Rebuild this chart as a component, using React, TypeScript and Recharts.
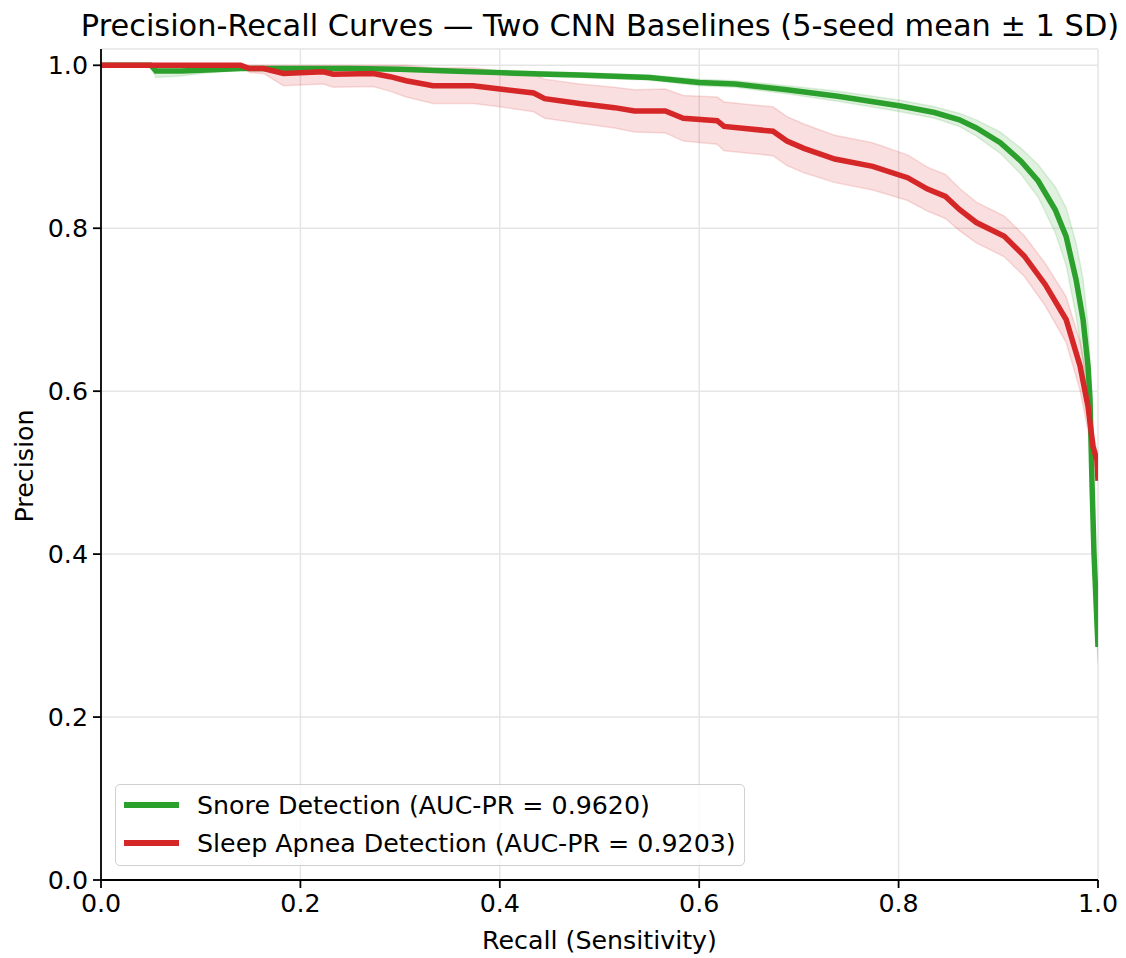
import React from 'react';
import { ComposedChart, Line, Area, XAxis, YAxis, CartesianGrid } from 'recharts';

// ---- Data ----
const snoreRecall = [0, 0.05, 0.055, 0.08, 0.1, 0.14, 0.2, 0.25, 0.3, 0.35, 0.4, 0.45, 0.48, 0.55, 0.6, 0.636, 0.688, 0.739, 0.802, 0.836, 0.861, 0.878, 0.902, 0.923, 0.94, 0.957, 0.968, 0.978, 0.985, 0.99, 0.992, 0.994, 0.996, 1.0];
const snorePrecision = [1.0, 1.0, 0.993, 0.993, 0.994, 0.996, 0.996, 0.996, 0.995, 0.993, 0.991, 0.989, 0.988, 0.985, 0.979, 0.977, 0.97, 0.962, 0.95, 0.942, 0.933, 0.923, 0.905, 0.882, 0.858, 0.823, 0.79, 0.737, 0.688, 0.631, 0.59, 0.487, 0.4, 0.286];
const snoreSD = [0, 0, 0.008, 0.006, 0.004, 0.002, 0.002, 0.002, 0.002, 0.002, 0.003, 0.003, 0.003, 0.003, 0.004, 0.004, 0.005, 0.006, 0.007, 0.007, 0.008, 0.01, 0.013, 0.016, 0.02, 0.028, 0.035, 0.045, 0.05, 0.05, 0.05, 0.045, 0.035, 0.02];

const apneaRecall = [0, 0.14, 0.149, 0.163, 0.183, 0.223, 0.233, 0.273, 0.29, 0.306, 0.333, 0.373, 0.4, 0.434, 0.445, 0.48, 0.515, 0.535, 0.566, 0.584, 0.618, 0.625, 0.674, 0.688, 0.705, 0.736, 0.774, 0.809, 0.829, 0.847, 0.861, 0.878, 0.906, 0.926, 0.947, 0.968, 0.982, 0.99, 0.995, 0.999, 1.0];
const apneaPrecision = [1.0, 1.0, 0.996, 0.996, 0.99, 0.992, 0.989, 0.99, 0.986, 0.981, 0.975, 0.975, 0.971, 0.966, 0.959, 0.953, 0.948, 0.944, 0.944, 0.935, 0.932, 0.925, 0.919, 0.907, 0.898, 0.885, 0.876, 0.862, 0.848, 0.839, 0.823, 0.807, 0.79, 0.766, 0.731, 0.688, 0.631, 0.581, 0.532, 0.515, 0.49];
const apneaSD = [0, 0, 0.005, 0.006, 0.015, 0.015, 0.016, 0.016, 0.018, 0.02, 0.022, 0.022, 0.022, 0.023, 0.024, 0.024, 0.025, 0.026, 0.027, 0.028, 0.029, 0.03, 0.03, 0.03, 0.03, 0.029, 0.029, 0.028, 0.027, 0.027, 0.026, 0.025, 0.025, 0.025, 0.026, 0.028, 0.03, 0.03, 0.02, 0.01, 0];

const xTicks = [0, 0.2, 0.4, 0.6, 0.8, 1.0];
const yTicks = [0, 0.2, 0.4, 0.6, 0.8, 1.0];

const seriesNames = ['Snore Detection (AUC-PR = 0.9620)', 'Sleep Apnea Detection (AUC-PR = 0.9203)'];
const titleText = 'Precision-Recall Curves — Two CNN Baselines (5-seed mean ± 1 SD)';

const GREEN = '#2ca02c';
const RED = '#d62728';
const FONT = 'DejaVu Sans, sans-serif';
const FS = 25.3;

const lineData = (rx: number[], py: number[]) => rx.map((x, i) => ({ x, y: py[i] }));
const bandData = (rx: number[], py: number[], sd: number[]) =>
  rx.map((x, i) => ({ x, band: [Math.max(0, py[i] - sd[i]), Math.min(1, py[i] + sd[i])] }));

const snoreLine = lineData(snoreRecall, snorePrecision);
const snoreBand = bandData(snoreRecall, snorePrecision, snoreSD);
const apneaLine = lineData(apneaRecall, apneaPrecision);
const apneaBand = bandData(apneaRecall, apneaPrecision, apneaSD);

const W = 1126;
const H = 958;

const YLabel = (props: any) => {
  const vb = props.viewBox || {};
  const cx = (vb.x || 0) + (vb.width || 0) - 77;
  const cy = 466;
  return (
    <text x={cx} y={cy} transform={`rotate(-90, ${cx}, ${cy})`} textAnchor="middle" dominantBaseline="central"
      fontFamily={FONT} fontSize={FS} fill="#000">Precision</text>
  );
};

const XLabel = (props: any) => {
  const vb = props.viewBox || {};
  const cx = (vb.x || 0) + (vb.width || 0) / 2;
  return (
    <text x={cx} y={940} textAnchor="middle" dominantBaseline="central" fontFamily={FONT} fontSize={FS} fill="#000">
      Recall (Sensitivity)
    </text>
  );
};

export default function App() {
  return (
    <div style={{ position: 'absolute', left: 0, top: 0, width: W, height: H, background: '#fff', overflow: 'hidden' }}>
      <div style={{ position: 'absolute', left: 200, top: 8, width: 800, display: 'flex', justifyContent: 'center',
        fontFamily: FONT, fontSize: 30.4, color: '#000', whiteSpace: 'nowrap', lineHeight: '36px' }}>
        <span>{titleText}</span>
      </div>
      <ComposedChart width={W} height={H} margin={{ top: 49, right: 28, bottom: 0, left: 41 }}>
        <CartesianGrid stroke="#e5e5e5" strokeWidth={1.5} />
        <XAxis type="number" dataKey="x" domain={[0, 1]} ticks={xTicks} allowDataOverflow
          tickFormatter={(v: number) => v.toFixed(1)} height={78} tickSize={8} tickMargin={6}
          axisLine={{ stroke: '#000', strokeWidth: 1.8 }} tickLine={{ stroke: '#000', strokeWidth: 1.8 }}
          tick={{ fill: '#000', fontFamily: FONT, fontSize: FS }} label={<XLabel />} />
        <YAxis type="number" domain={[0, 1.02]} ticks={yTicks} allowDataOverflow
          tickFormatter={(v: number) => v.toFixed(1)} width={60} tickSize={8} tickMargin={5}
          axisLine={{ stroke: '#000', strokeWidth: 1.8 }} tickLine={{ stroke: '#000', strokeWidth: 1.8 }}
          tick={{ fill: '#000', fontFamily: FONT, fontSize: FS }} label={<YLabel />} />
        <Area data={snoreBand} dataKey="band" type="linear" fill={GREEN} fillOpacity={0.15}
          stroke={GREEN} strokeOpacity={0.15} strokeWidth={1.5} isAnimationActive={false} dot={false} activeDot={false} />
        <Area data={apneaBand} dataKey="band" type="linear" fill={RED} fillOpacity={0.15}
          stroke={RED} strokeOpacity={0.15} strokeWidth={1.5} isAnimationActive={false} dot={false} activeDot={false} />
        <Line data={snoreLine} dataKey="y" type="linear" stroke={GREEN} strokeWidth={5.5} dot={false}
          activeDot={false} isAnimationActive={false} />
        <Line data={apneaLine} dataKey="y" type="linear" stroke={RED} strokeWidth={5.5} dot={false}
          activeDot={false} isAnimationActive={false} />
      </ComposedChart>
      <div style={{ position: 'absolute', left: 115, top: 784, width: 628, height: 80, border: '1.5px solid #d0d0d0',
        borderRadius: 5, background: 'rgba(255,255,255,0.8)', fontFamily: FONT, fontSize: FS, color: '#000' }}>
        {[GREEN, RED].map((c, i) => (
          <div key={i} style={{ position: 'absolute', left: 8, top: 5 + i * 38, height: 30, display: 'flex', alignItems: 'center', whiteSpace: 'nowrap' }}>
            <div style={{ width: 55, height: 5.5, background: c, marginRight: 18 }} />
            <span>{seriesNames[i]}</span>
          </div>
        ))}
      </div>
    </div>
  );
}
